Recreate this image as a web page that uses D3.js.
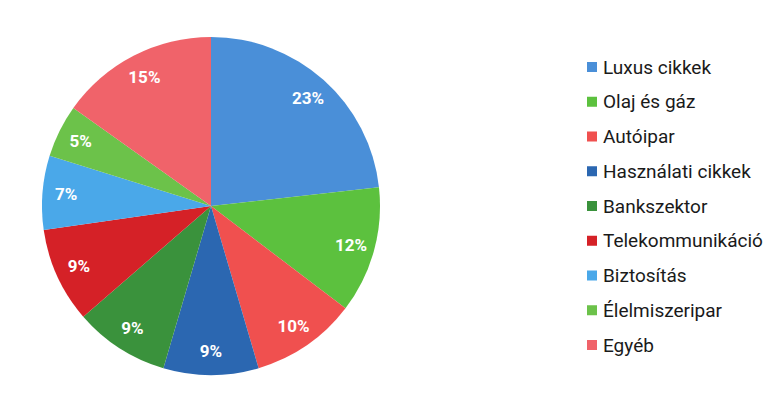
<!DOCTYPE html>
<html>
<head>
<meta charset="utf-8">
<script src="https://cdn.jsdelivr.net/npm/d3@7"></script>
<style>
  body { margin: 0; background: #fff; }
  svg { display: block; font-family: Roboto, "Noto Sans", sans-serif; }
</style>
</head>
<body>
<svg></svg>
<script>
let categories = ['Luxus cikkek', 'Olaj és gáz', 'Autóipar', 'Használati cikkek', 'Bankszektor',
                  'Telekommunikáció', 'Biztosítás', 'Élelmiszeripar', 'Egyéb']
let shares = [23, 12, 10, 9, 9, 9, 7, 5, 15]
let colours = ['#4a8fd8', '#5cc13e', '#f0504f', '#2b67b1', '#3a923c',
               '#d52127', '#4aa8e9', '#6cc24a', '#f0636a']

let width = 778,
    height = 408;
let cx = 211, cy = 206, radius = 169;

let svg = d3.select('svg')
            .attr('width', width)
            .attr('height', height)

let data = categories.map((c, i) => ({name: c, value: shares[i], colour: colours[i]}))

//pie layout
let pie = d3.pie()
            .sort(null)
            .value(d => d.value)

let arc = d3.arc()
            .innerRadius(0)
            .outerRadius(radius)

let labelArc = d3.arc()
            .innerRadius(radius * 0.86)
            .outerRadius(radius * 0.86)

let g = svg.append('g')
           .attr('transform', 'translate(' + cx + ',' + cy + ')')

g.selectAll('path')
  .data(pie(data))
  .enter()
  .append('path')
  .attr('d', arc)
  .attr('fill', d => d.data.colour)

g.selectAll('text')
  .data(pie(data))
  .enter()
  .append('text')
  .attr('transform', d => 'translate(' + labelArc.centroid(d) + ')')
  .attr('text-anchor', 'middle')
  .attr('dy', '0.35em')
  .attr('fill', '#fff')
  .style('font-size', '17px')
  .style('font-weight', 'bold')
  .text(d => d.data.value + '%')

// legend
let legendY = d3.scalePoint()
                .domain(categories)
                .range([67, 345])

let legend = svg.append('g')
                .selectAll('g')
                .data(data)
                .enter()
                .append('g')
                .attr('transform', d => 'translate(587,' + legendY(d.name) + ')')

legend.append('rect')
      .attr('x', 0)
      .attr('y', -5)
      .attr('width', 10)
      .attr('height', 10)
      .attr('fill', d => d.colour)

legend.append('text')
      .attr('x', 16)
      .attr('dy', '0.35em')
      .attr('fill', '#1a1a1a')
      .style('font-size', '19px')
      .text(d => d.name)
</script>
</body>
</html>
